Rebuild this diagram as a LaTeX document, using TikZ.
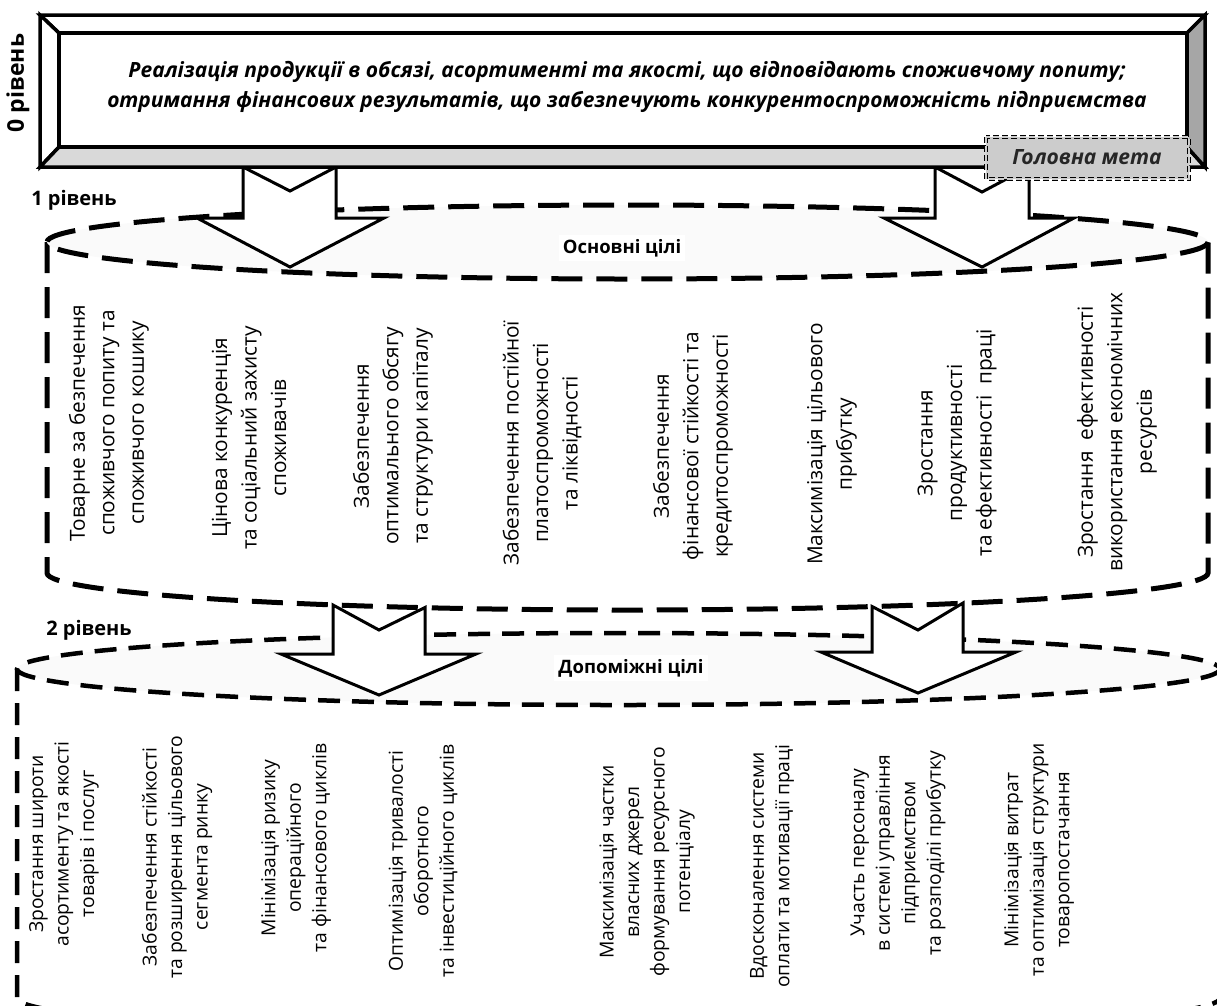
\documentclass[tikz,border=0pt]{standalone}
\usepackage{fontspec}
\setmainfont{Open Sans}
\begin{document}
\begin{tikzpicture}[x=1pt,y=-1pt,
  dashA/.style={line width=5pt, dash pattern=on 31pt off 14pt},
  dashB/.style={line width=4.5pt, dash pattern=on 22pt off 12pt},
  blockarrow/.style={draw=black, fill=white, line width=3pt, line join=miter},
  bevel/.style={draw=black, line width=3.5pt, line join=miter},
  colA/.style={rotate=90, align=center, font=\fontsize{20.8}{29.5}\selectfont, inner sep=0pt},
  colB/.style={rotate=90, align=center, font=\fontsize{19.3}{25.5}\selectfont, inner sep=0pt},
  lvl/.style={font=\bfseries\fontsize{20}{24}\selectfont, inner sep=1pt},
  ]
\useasboundingbox (0,0) rectangle (1217,1005);

% ---------- level 1 cylinder ----------
\draw[dashA] (47,242) -- (47,573) arc[start angle=180, end angle=0, x radius=580.5, y radius=37] -- (1208,242);
\draw[dashA, fill=black!2] (627.5,242) ellipse[x radius=580.5, y radius=37];

% ---------- level 2 cylinder ----------
\draw[dashB] (17,669) -- (17,998) arc[start angle=180, end angle=0, x radius=601.5, y radius=36] -- (1220,669);
\draw[dashB, fill=black!2] (618.5,669) ellipse[x radius=601.5, y radius=36];

% ---------- arrows level 0 -> 1 ----------
\draw[blockarrow] (243,167) -- (290,191) -- (336,167) -- (336,218) -- (384,218) -- (290,267) -- (197,218) -- (243,218) -- cycle;
\draw[blockarrow] (935,167) -- (982,192) -- (1029,167) -- (1029,218) -- (1074,218) -- (982,267) -- (884,218) -- (935,218) -- cycle;

% ---------- arrows level 1 -> 2 ----------
\draw[blockarrow] (333,605) -- (379,630) -- (425,607.5) -- (425,654) -- (476,654) -- (379,695) -- (281,654) -- (333,654) -- cycle;
\draw[blockarrow] (872,606.5) -- (918,630) -- (963,603) -- (963,652) -- (1016,652) -- (918,693) -- (821,652) -- (872,652) -- cycle;

% ---------- top beveled box ----------
\filldraw[bevel, fill=white] (40,15) -- (1205,15) -- (1187,33) -- (59,33) -- cycle;
\filldraw[bevel, fill=white] (40,15) -- (59,33) -- (59,147) -- (40,167) -- cycle;
\filldraw[bevel, fill=black!15] (40,167) -- (59,147) -- (1187,147) -- (1205,167) -- cycle;
\filldraw[bevel, fill=black!35] (1205,15) -- (1187,33) -- (1187,147) -- (1205,167) -- cycle;
\draw[bevel, fill=white] (59,33) rectangle (1187,147);

\node[font=\bfseries\itshape\fontsize{21}{30.5}\selectfont, align=center] (goal) at (627,87)
  {Реалізація продукції в обсязі, асортименті та якості, що відповідають споживчому попиту;\\
   отримання фінансових результатів, що забезпечують конкурентоспроможність підприємства};

% ---------- main goal tag ----------
\draw[fill=black!20, draw=black, double=black!20, double distance=1.5pt, line width=1.6pt,
      dash pattern=on 6pt off 3pt] (986,137) rectangle (1189,179);
\node[font=\bfseries\itshape\fontsize{21}{25}\selectfont, text=black!85] (maingoal) at (1087,157) {Головна мета};

% ---------- level labels ----------
\node[lvl, rotate=90, font=\bfseries\fontsize{23}{26}\selectfont] (l0) at (18,83) {0 рівень};
\node[lvl] (l1) at (74,200) {1 рівень};
\node[lvl] (l2) at (89,630) {2 рівень};
\node[lvl, font=\bfseries\fontsize{18.5}{22}\selectfont, fill=white, inner sep=4pt] (main) at (622,248) {Основні цілі};
\node[lvl, font=\bfseries\fontsize{18.5}{22}\selectfont, fill=white, inner sep=4pt] (aux) at (631,668) {Допоміжні цілі};

% ---------- level 1 goals ----------
\node[colA] (a1) at (109,423) {Товарне за безпечення\\споживчого попиту та\\споживчого кошику};
\node[colA] (a2) at (249,438) {Цінова конкуренція\\та соціальний захисту\\споживачів};
\node[colA] (a3) at (393,436) {Забезпечення\\оптимального обсягу\\та структури капіталу};
\node[colA] (a4) at (542,443) {Забезпечення постійної\\платоспроможності\\та ліквідності};
\node[colA] (a5) at (693,446) {Забезпечення\\фінансової стійкості та\\кредитоспроможності};
\node[colA] (a6) at (832,444) {Максимізація цільового\\прибутку};
\node[colA] (a7) at (957,443) {Зростання\\продуктивності\\та ефективності\ \ праці};
\node[colA] (a8) at (1117,432) {Зростання\ \ ефективності\\використання економічних\\ресурсів};

% ---------- level 2 goals ----------
\node[colB] (b1) at (64,844) {Зростання широти\\асортименту та якості\\товарів і послуг};
\node[colB] (b2) at (177,857) {Забезпечення стійкості\\та розширення цільового\\сегмента ринку};
\node[colB] (b3) at (296,848) {Мінімізація ризику\\операційного\\та фінансового циклів};
\node[colB] (b4) at (423,861) {Оптимізація тривалості\\оборотного\\та інвестиційного циклів};
\node[colB] (b5) at (647,862) {Максимізація частки\\власних джерел\\формування ресурсного\\потенціалу};
\node[colB] (b6) at (772,866) {Вдосконалення системи\\оплати та мотивації праці};
\node[colB] (b7) at (898,853) {Участь персоналу\\в системі управління\\підприємством\\та розподілі прибутку};
\node[colB] (b8) at (1039,860) {Мінімізація витрат\\та оптимізація структури\\товаропостачання};
\end{tikzpicture}
\end{document}
